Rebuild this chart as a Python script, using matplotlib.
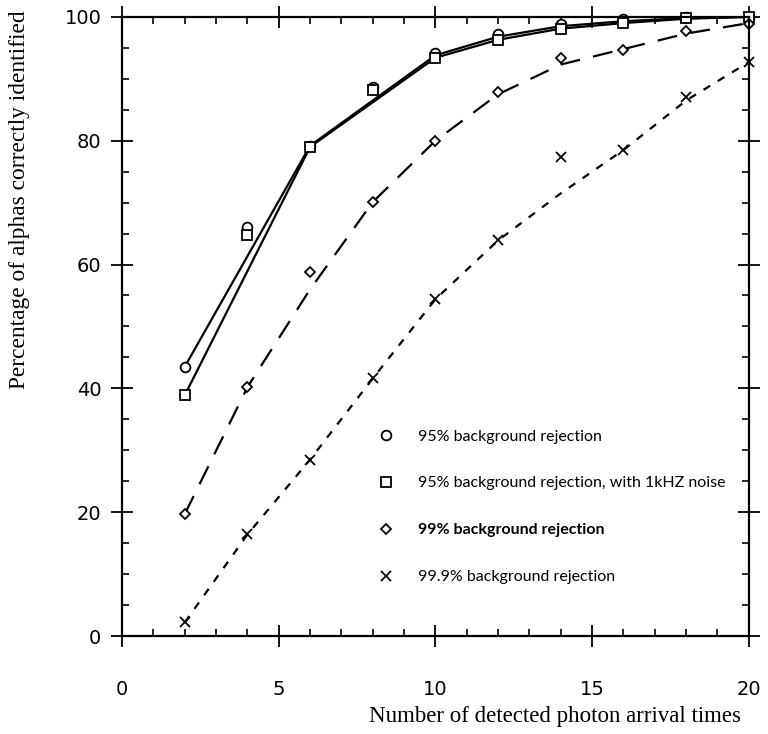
import matplotlib
matplotlib.use('Agg')
import matplotlib.pyplot as plt
from matplotlib.ticker import MultipleLocator

# measured identification rates (percent) vs number of photon arrival times
n_photons = [2, 4, 6, 8, 10, 12, 14, 16, 18, 20]
rej95 = [43.5, 66.1, 79.2, 88.6, 94.2, 97.2, 98.8, 99.6, 100.0, 100.0]
rej95_noise = [38.9, 64.7, 79.0, 88.2, 93.4, 96.3, 98.1, 99.0, 99.8, 100.0]
rej99 = [19.7, 40.2, 58.8, 70.1, 80.0, 87.9, 93.3, 94.6, 97.7, 98.9]
rej999 = [2.2, 16.4, 28.5, 41.6, 54.4, 63.9, 77.3, 78.5, 87.1, 92.7]

# fitted curves drawn through the measurements
fit95_x = [2, 6, 10, 12, 14, 16, 18, 20]
fit95 = [43.5, 79.2, 93.8, 96.8, 98.5, 99.3, 99.8, 100.0]
fit95_noise = [38.9, 79.0, 93.4, 96.3, 98.1, 99.0, 99.7, 100.0]
fit99 = [19.7, 40.2, 56.0, 70.1, 80.0, 87.5, 92.3, 94.8, 97.3, 99.0]
fit999 = [2.2, 16.4, 28.5, 41.6, 54.4, 63.9, 71.5, 78.5, 86.5, 92.7]

labels = ['95% background rejection',
          '95% background rejection, with 1kHZ noise',
          '99% background rejection',
          '99.9% background rejection']

fig = plt.figure(figsize=(7.68, 7.34), dpi=100)
ax = fig.add_axes([0.159, 0.1335, 0.816, 0.8435])

lw = 1.6
ax.plot(fit95_x, fit95, color='black', lw=lw)
ax.plot(fit95_x, fit95_noise, color='black', lw=lw)
ax.plot(n_photons, fit99, color='black', lw=lw, linestyle=(0, (9, 6)))
ax.plot(n_photons, fit999, color='black', lw=lw, linestyle=(0, (3.5, 4)))

mk = dict(color='black', linestyle='none', mfc='white', mew=1.3, clip_on=False)
h1, = ax.plot(n_photons, rej95, marker='o', ms=7, **mk)
h2, = ax.plot(n_photons, rej95_noise, marker='s', ms=7, **mk)
h3, = ax.plot(n_photons, rej99, marker='D', ms=5, **mk)
h4, = ax.plot(n_photons, rej999, marker='x', ms=7, **mk)

ax.set_xlim(0, 20)
ax.set_ylim(0, 100)
ax.xaxis.set_major_locator(MultipleLocator(5))
ax.xaxis.set_minor_locator(MultipleLocator(1))
ax.yaxis.set_major_locator(MultipleLocator(20))
ax.yaxis.set_minor_locator(MultipleLocator(5))

for s in ax.spines.values():
    s.set_linewidth(1.6)

ax.tick_params(which='major', direction='inout', length=16, width=1.3,
               top=True, right=True, labelsize=14)
ax.tick_params(which='minor', direction='in', length=5, width=1.2,
               top=True, right=True)
ax.tick_params(axis='x', which='major', pad=24)
ax.tick_params(axis='y', which='major', pad=7)
for t in ax.get_xticklabels() + ax.get_yticklabels():
    t.set_fontfamily('DejaVu Sans')

fig.text(0.026, 0.728, 'Percentage of alphas correctly identified',
         rotation=90, ha='center', va='center',
         family='Liberation Serif', fontsize=16.8)
fig.text(0.965, 0.024, 'Number of detected photon arrival times',
         ha='right', va='center', family='Liberation Serif', fontsize=16.5)

leg = ax.legend([h1, h2, h3, h4], labels, loc='upper left',
                bbox_to_anchor=(0.385, 0.357), frameon=False,
                handlelength=1.0, handletextpad=1.5, labelspacing=2.05,
                prop={'family': 'Lato', 'size': 11.5})
leg.get_texts()[2].set_fontweight('bold')

fig.savefig('out.png', dpi=100)
